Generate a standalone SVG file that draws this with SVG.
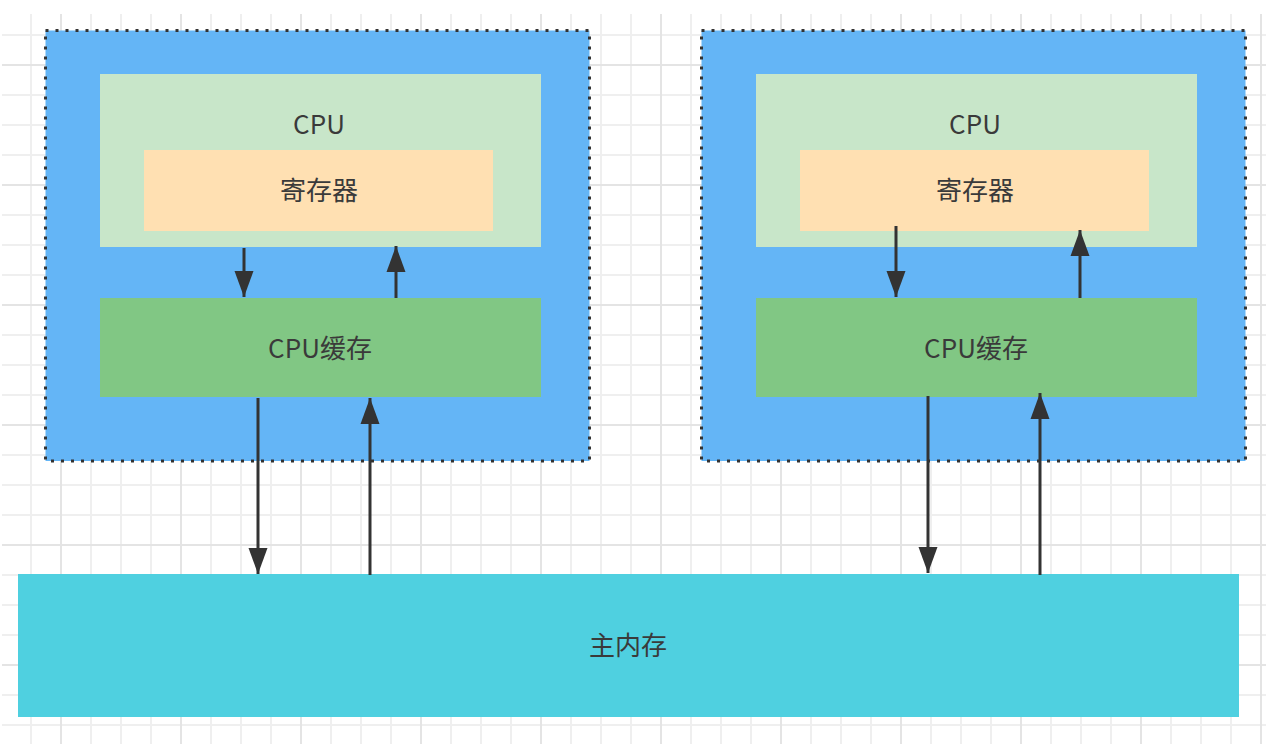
<svg xmlns="http://www.w3.org/2000/svg" width="1266" height="744" viewBox="0 0 1266 744">
<defs>
<style>
.grid{stroke:#efefef;stroke-width:2;fill:none}
.gridm{stroke:#e4e4e4;stroke-width:2;fill:none}
.container{fill:#64b5f6;stroke:#333;stroke-width:3;stroke-dasharray:3 7}
.cpu{fill:#c8e6c9}
.reg{fill:#ffe0b2}
.cache{fill:#81c784}
.mem{fill:#4fd0e0}
.lbl{font-family:"Noto Sans CJK SC","Liberation Sans",sans-serif;font-size:26px;fill:#3a3a3a;text-anchor:middle;dominant-baseline:central}
.arr{stroke:#333;stroke-width:3;fill:none;marker-end:url(#ah)}
</style>
<marker id="ah" markerUnits="userSpaceOnUse" markerWidth="26" markerHeight="20" refX="26" refY="10" orient="auto" viewBox="0 0 26 20">
<path d="M0,0.5 L26,10 L0,19.5 z" fill="#333"/>
</marker>
</defs>
<rect width="1266" height="744" fill="#fff"/>
<g id="grid">
<path class="grid" d="M31,14V744M91,14V744M121,14V744M151,14V744M211,14V744M241,14V744M271,14V744M331,14V744M361,14V744M391,14V744M451,14V744M481,14V744M511,14V744M571,14V744M601,14V744M631,14V744M691,14V744M721,14V744M751,14V744M811,14V744M841,14V744M871,14V744M931,14V744M961,14V744M991,14V744M1051,14V744M1081,14V744M1111,14V744M1171,14V744M1201,14V744M1231,14V744
M2,35H1266M2,95H1266M2,125H1266M2,155H1266M2,215H1266M2,245H1266M2,275H1266M2,335H1266M2,365H1266M2,395H1266M2,455H1266M2,485H1266M2,515H1266M2,575H1266M2,605H1266M2,635H1266M2,695H1266M2,725H1266"/>
<path class="gridm" d="M61,14V744M181,14V744M301,14V744M421,14V744M541,14V744M661,14V744M781,14V744M901,14V744M1021,14V744M1141,14V744M1261,14V744
M2,65H1266M2,185H1266M2,305H1266M2,425H1266M2,545H1266M2,665H1266"/>
</g>
<g id="left-core">
<rect class="container" x="45.5" y="30.5" width="544" height="430.5"/>
</g>
<g id="left-cpu">
<rect class="cpu" x="100" y="74" width="441" height="173"/>
<text class="lbl" x="319" y="122">CPU</text>
</g>
<g id="left-register">
<rect class="reg" x="144" y="150" width="349" height="81"/>
<text class="lbl" x="319" y="188">寄存器</text>
</g>
<g id="left-cache">
<rect class="cache" x="100" y="298" width="441" height="99"/>
<text class="lbl" x="320" y="346">CPU缓存</text>
</g>
<g id="right-core">
<rect class="container" x="701.5" y="30.5" width="544" height="430.5"/>
</g>
<g id="right-cpu">
<rect class="cpu" x="756" y="74" width="441" height="173"/>
<text class="lbl" x="975" y="122">CPU</text>
</g>
<g id="right-register">
<rect class="reg" x="800" y="150" width="349" height="81"/>
<text class="lbl" x="975" y="188">寄存器</text>
</g>
<g id="right-cache">
<rect class="cache" x="756" y="298" width="441" height="99"/>
<text class="lbl" x="976" y="346">CPU缓存</text>
</g>
<g id="main-memory">
<rect class="mem" x="18" y="574" width="1221" height="143"/>
<text class="lbl" x="628" y="643">主内存</text>
</g>
<g id="connectors">
<line class="arr" x1="244" y1="248" x2="244" y2="297"/>
<line class="arr" x1="396" y1="298" x2="396" y2="246"/>
<line class="arr" x1="258" y1="398" x2="258" y2="574"/>
<line class="arr" x1="370" y1="575" x2="370" y2="398"/>
<line class="arr" x1="896" y1="226" x2="896" y2="297"/>
<line class="arr" x1="1080" y1="298" x2="1080" y2="230"/>
<line class="arr" x1="928" y1="396" x2="928" y2="573"/>
<line class="arr" x1="1040" y1="575" x2="1040" y2="393"/>
</g>
</svg>
